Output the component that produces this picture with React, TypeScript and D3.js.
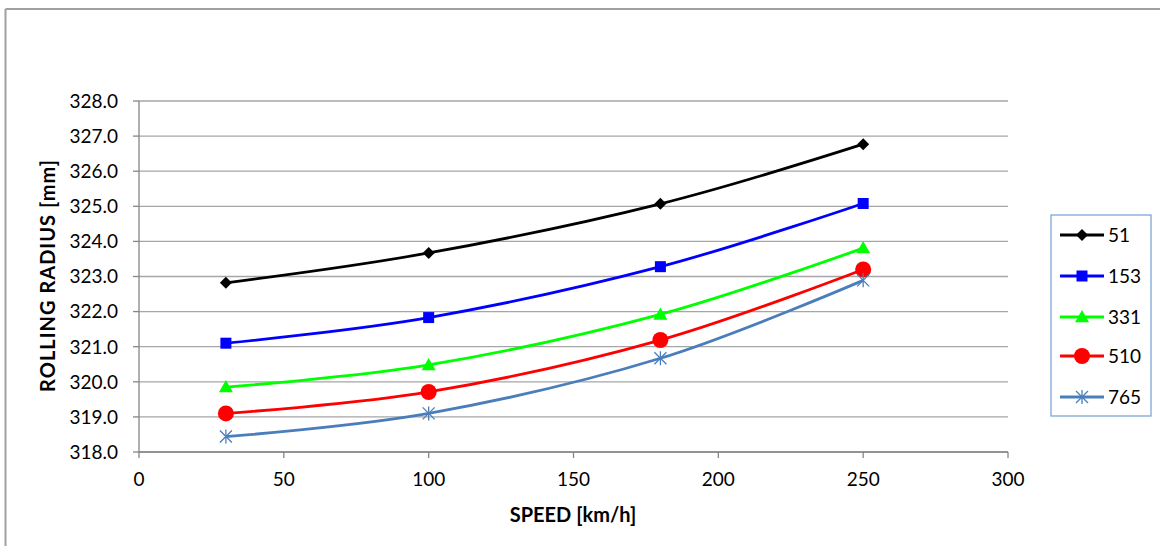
import React from "react";
import * as d3 from "d3";

const speeds = [30, 100, 180, 250];
const seriesNames = ["51", "153", "331", "510", "765"];
const s51 = [322.82, 323.67, 325.07, 326.77];
const s153 = [321.1, 321.83, 323.28, 325.08];
const s331 = [319.85, 320.48, 321.92, 323.81];
const s510 = [319.1, 319.71, 321.19, 323.2];
const s765 = [318.44, 319.1, 320.67, 322.89];
const xTicks = [0, 50, 100, 150, 200, 250, 300];
const yTicks = [318, 319, 320, 321, 322, 323, 324, 325, 326, 327, 328];

const seriesValues = [s51, s153, s331, s510, s765];
const colors = ["#000000", "#0000ff", "#00ff00", "#ff0000", "#4a7ebb"];
const markers = ["diamond", "square", "triangle", "circle", "star"];

const W = 1160;
const H = 546;
const plot = { left: 139, right: 1008, top: 101, bottom: 452 };
const FONT = "Lato, 'Open Sans', sans-serif";

function Marker({ type, x, y, color }: { type: string; x: number; y: number; color: string }) {
  if (type === "diamond") {
    const r = 6;
    return <path d={`M${x},${y - r}L${x + r},${y}L${x},${y + r}L${x - r},${y}Z`} fill={color} />;
  }
  if (type === "square") {
    const s = 11;
    return <rect x={x - s / 2} y={y - s / 2} width={s} height={s} fill={color} />;
  }
  if (type === "triangle") {
    const r = 7;
    return <path d={`M${x},${y - r}L${x + r},${y + r * 0.75}L${x - r},${y + r * 0.75}Z`} fill={color} />;
  }
  if (type === "circle") {
    return <circle cx={x} cy={y} r={8} fill={color} />;
  }
  const r = 6;
  return (
    <g stroke={color} strokeWidth={1.3}>
      <line x1={x - r} y1={y - r} x2={x + r} y2={y + r} />
      <line x1={x - r} y1={y + r} x2={x + r} y2={y - r} />
      <line x1={x} y1={y - r - 1} x2={x} y2={y + r + 1} />
    </g>
  );
}

export default function App() {
  const x = d3.scaleLinear().domain([0, 300]).range([plot.left, plot.right]);
  const y = d3.scaleLinear().domain([318, 328]).range([plot.bottom, plot.top]);
  const line = d3
    .line<number>()
    .x((_, i) => x(speeds[i]))
    .y((d) => y(d))
    .curve(d3.curveCatmullRom.alpha(0));

  const legendX = 1051;
  const legendY = 215;
  const legendRows = [235, 276, 317, 356, 397];

  return (
    <div style={{ position: "absolute", left: 0, top: 0, width: W, height: H, overflow: "hidden" }}>
      <svg width={W} height={H} style={{ display: "block", background: "#fff" }}>
        <line x1={5.5} y1={9} x2={5.5} y2={H} stroke="#a0a0a0" strokeWidth={2} />
        <line x1={5.5} y1={9} x2={W} y2={9} stroke="#a0a0a0" strokeWidth={2} />

        {yTicks.map((t) => (
          <g key={"y" + t}>
            <line x1={plot.left} x2={plot.right} y1={y(t)} y2={y(t)} stroke="#a6a6a6" strokeWidth={1.3} />
            <line x1={plot.left - 6} x2={plot.left} y1={y(t)} y2={y(t)} stroke="#868686" strokeWidth={1.3} />
            <text x={plot.left - 21} y={y(t)} dy="0.36em" textAnchor="end" fontFamily={FONT} fontSize={19} fill="#000">
              {t.toFixed(1)}
            </text>
          </g>
        ))}
        <line x1={plot.left} x2={plot.left} y1={plot.top} y2={plot.bottom} stroke="#868686" strokeWidth={1.3} />
        <line x1={plot.left} x2={plot.right} y1={plot.bottom} y2={plot.bottom} stroke="#868686" strokeWidth={1.3} />
        {xTicks.map((t) => (
          <g key={"x" + t}>
            <line x1={x(t)} x2={x(t)} y1={plot.bottom} y2={plot.bottom + 6} stroke="#868686" strokeWidth={1.3} />
            <text x={x(t)} y={plot.bottom + 34} textAnchor="middle" fontFamily={FONT} fontSize={19} fill="#000">
              {t}
            </text>
          </g>
        ))}

        <text
          transform={`translate(55,${(plot.top + plot.bottom) / 2 - 1}) rotate(-90)`}
          textAnchor="middle"
          fontFamily={FONT}
          fontWeight="bold"
          fontSize={20}
          letterSpacing={1}
        >
          ROLLING RADIUS [mm]
        </text>
        <text x={573} y={522} textAnchor="middle" fontFamily={FONT} fontWeight="bold" fontSize={20}>
          SPEED [km/h]
        </text>

        {seriesValues.map((vals, si) => (
          <g key={"s" + si}>
            <path d={line(vals) || ""} fill="none" stroke={colors[si]} strokeWidth={2.8} />
            {vals.map((v, i) => (
              <Marker key={i} type={markers[si]} x={x(speeds[i])} y={y(v)} color={colors[si]} />
            ))}
          </g>
        ))}

        <rect x={legendX} y={legendY} width={100} height={201} fill="#fff" stroke="#7ea6d8" strokeWidth={1.3} />
        {seriesNames.map((n, si) => (
          <g key={"l" + si}>
            <line x1={1060} x2={1104} y1={legendRows[si]} y2={legendRows[si]} stroke={colors[si]} strokeWidth={2.8} />
            <Marker type={markers[si]} x={1082} y={legendRows[si]} color={colors[si]} />
            <text x={1108} y={legendRows[si]} dy="0.36em" fontFamily={FONT} fontSize={19} fill="#000">
              {n}
            </text>
          </g>
        ))}
      </svg>
    </div>
  );
}
